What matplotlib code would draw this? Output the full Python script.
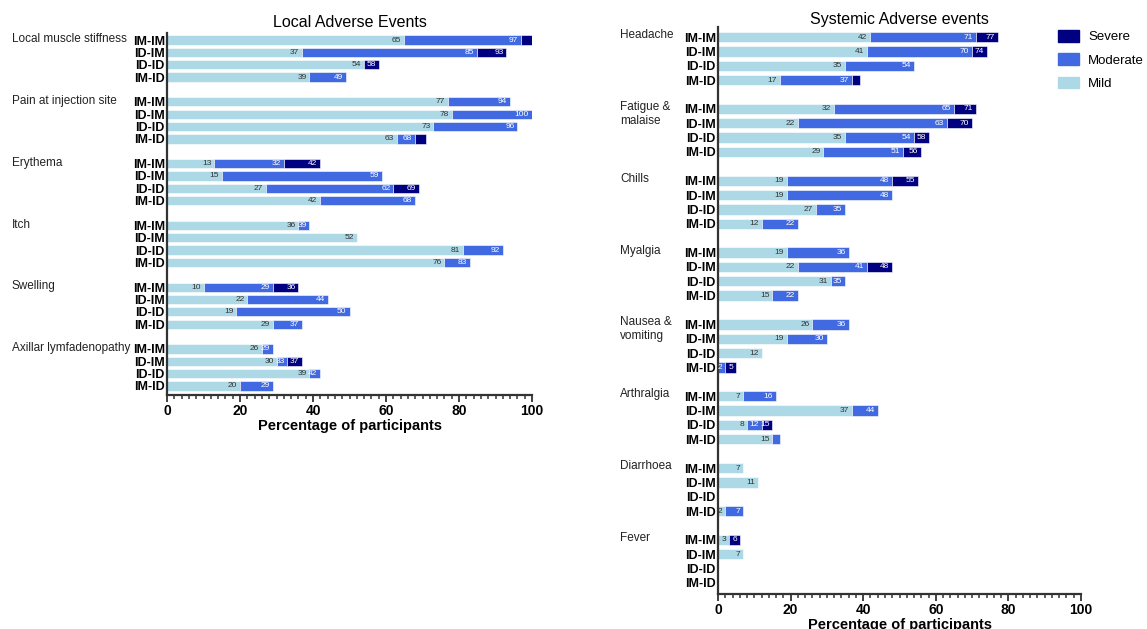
import matplotlib
matplotlib.use("Agg")
from matplotlib import pyplot as plt
from matplotlib.patches import Patch
from matplotlib.ticker import MultipleLocator

plt.rcParams['font.family'] = ['Liberation Sans', 'DejaVu Sans']

# values are cumulative percentages (mild, mild+moderate, mild+moderate+severe)
groups = ['IM-IM', 'ID-IM', 'ID-ID', 'IM-ID']

local_events = ['Local muscle stiffness', 'Pain at injection site', 'Erythema',
                'Itch', 'Swelling', 'Axillar lymfadenopathy']
local_mild = [[65, 37, 54, 39], [77, 78, 73, 63], [13, 15, 27, 42],
              [36, 52, 81, 76], [10, 22, 19, 29], [26, 30, 39, 20]]
local_moderate = [[97, 85, None, 49], [94, 100, 96, 68], [32, 59, 62, 68],
                  [39, None, 92, 83], [29, 44, 50, 37], [29, 33, 42, 29]]
local_severe = [[100, 93, 58, None], [None, None, None, 71], [42, None, 69, None],
                [None, None, None, None], [36, None, None, None], [None, 37, None, None]]
# (event, group, level) whose value is not printed in the original
local_unlabelled = [(0, 0, 'severe'), (1, 3, 'severe')]

sys_events = ['Headache', 'Fatigue &\nmalaise', 'Chills', 'Myalgia',
              'Nausea &\nvomiting', 'Arthralgia', 'Diarrhoea', 'Fever']
sys_mild = [[42, 41, 35, 17], [32, 22, 35, 29], [19, 19, 27, 12], [19, 22, 31, 15],
            [26, 19, 12, None], [7, 37, 8, 15], [7, 11, None, 2], [3, 7, None, None]]
sys_moderate = [[71, 70, 54, 37], [65, 63, 54, 51], [48, 48, 35, 22], [36, 41, 35, 22],
                [36, 30, None, 2], [16, 44, 12, 17], [None, None, None, 7],
                [None, None, None, None]]
sys_severe = [[77, 74, None, 39], [71, 70, 58, 56], [55, None, None, None],
              [None, 48, None, None], [None, None, None, 5], [None, None, 15, None],
              [None, None, None, None], [6, None, None, None]]
sys_unlabelled = [(0, 3, 'severe'), (5, 3, 'moderate')]

colors = {'mild': '#add8e6', 'moderate': '#4169e1', 'severe': '#000080'}
text_colors = {'mild': '#333333', 'moderate': 'white', 'severe': 'white'}


def draw_panel(ax, events, mild, moderate, severe, unlabelled, bar_h, label_x):
    ticks, ticklabels = [], []
    for e, name in enumerate(events):
        for g, grp in enumerate(groups):
            y = e * 5 + g
            ticks.append(y)
            ticklabels.append(grp)
            start = 0
            for level, vals in (('mild', mild), ('moderate', moderate), ('severe', severe)):
                v = vals[e][g]
                if v is None:
                    continue
                ax.barh(y, v - start, left=start, height=bar_h, color=colors[level],
                        edgecolor='white', linewidth=0.4)
                if (e, g, level) not in unlabelled:
                    ax.text(v - 0.8, y, str(v), ha='right', va='center',
                            fontsize=6, color=text_colors[level])
                start = v
        ax.text(label_x, e * 5 - 0.55, name, transform=ax.get_yaxis_transform(),
                ha='left', va='top', fontsize=8.5, color='#222222')
    ax.set_yticks(ticks)
    ax.set_yticklabels(ticklabels, fontweight='bold', fontsize=9)
    ax.set_xlim(0, 100)
    ax.xaxis.set_major_locator(MultipleLocator(20))
    ax.xaxis.set_minor_locator(MultipleLocator(2))
    for s in ('top', 'right'):
        ax.spines[s].set_visible(False)
    for s in ('left', 'bottom'):
        ax.spines[s].set_linewidth(1.6)
        ax.spines[s].set_color('#333333')
    ax.tick_params(axis='y', length=0, pad=1.5)
    ax.tick_params(axis='x', which='major', length=5, width=1.3, color='#333333',
                   labelsize=10, pad=1.5)
    ax.tick_params(axis='x', which='minor', length=3, width=1.1, color='#333333')
    for t in ax.get_xticklabels():
        t.set_fontweight('bold')
    ax.set_xlabel('Percentage of participants', fontweight='bold', fontsize=10.5,
                  labelpad=1)


fig = plt.figure(figsize=(11.47, 6.29), dpi=100)

ax1 = fig.add_axes([167 / 1147, 1 - 395 / 629, 365 / 1147, 362 / 629])
draw_panel(ax1, local_events, local_mild, local_moderate, local_severe,
           local_unlabelled, 0.75, -155 / 365)
ax1.set_ylim(28.73, -0.57)
ax1.set_title('Local Adverse Events', fontsize=11.5, pad=4)

ax2 = fig.add_axes([718 / 1147, 1 - 594 / 629, 363 / 1147, 567 / 629])
draw_panel(ax2, sys_events, sys_mild, sys_moderate, sys_severe,
           sys_unlabelled, 0.72, -98 / 363)
ax2.set_ylim(38.77, -0.7)
ax2.set_title('Systemic Adverse events', fontsize=11.5, pad=1.5)

handles = [Patch(color=colors['severe'], label='Severe'),
           Patch(color=colors['moderate'], label='Moderate'),
           Patch(color=colors['mild'], label='Mild')]
fig.legend(handles=handles, loc='upper left', bbox_to_anchor=(1058 / 1147, 1 - 30 / 629),
           frameon=False, fontsize=9.5, handlelength=1.6, handleheight=1.0,
           labelspacing=0.75, handletextpad=0.7, borderpad=0, borderaxespad=0)

fig.savefig('out.png', dpi=100)
